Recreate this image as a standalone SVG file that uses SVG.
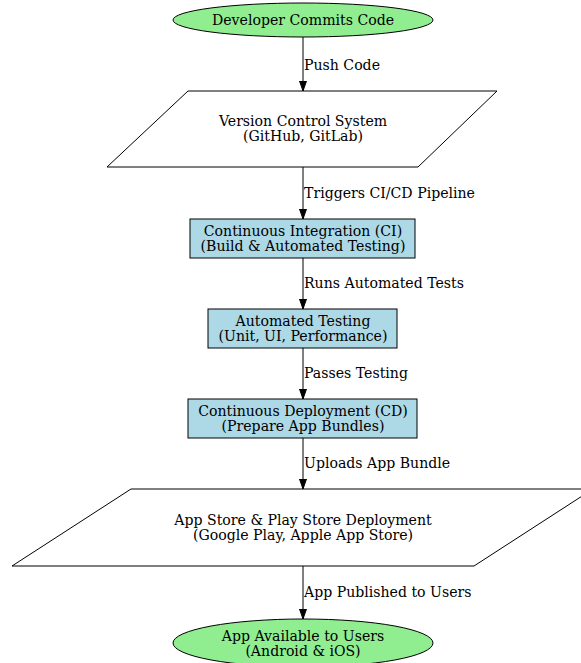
<svg xmlns="http://www.w3.org/2000/svg" width="581" height="663" viewBox="0 0 581 663">
<style>
text{font-family:"DejaVu Serif",serif;font-size:14.1px;fill:#000;}
.n{text-anchor:middle;}
.shape{stroke:#000;stroke-width:1;}
.ell{fill:#90ee90;}
.box{fill:#add8e6;}
.para{fill:#fff;}
.e{stroke:#000;stroke-width:1;fill:none;marker-end:url(#ah);}
</style>
<defs>
<marker id="ah" markerWidth="10" markerHeight="10" refX="10" refY="3.5" orient="auto" markerUnits="userSpaceOnUse" viewBox="0 0 10 7">
<path d="M0,0 L10,3.5 L0,7 Z" fill="#000" stroke="#000"/>
</marker>
</defs>
<rect width="581" height="663" fill="#fff"/>
<g id="connectors">
<line class="e" x1="303" y1="37" x2="303" y2="91"/>
<text x="304" y="70">Push Code</text>
<line class="e" x1="303" y1="167" x2="303" y2="219"/>
<text x="304" y="198">Triggers CI/CD Pipeline</text>
<line class="e" x1="303" y1="258" x2="303" y2="309"/>
<text x="304" y="288">Runs Automated Tests</text>
<line class="e" x1="303" y1="348" x2="303" y2="399"/>
<text x="304" y="378">Passes Testing</text>
<line class="e" x1="303" y1="438" x2="303" y2="489"/>
<text x="304" y="468">Uploads App Bundle</text>
<line class="e" x1="303" y1="566" x2="303" y2="619"/>
<text x="304" y="597">App Published to Users</text>
</g>
<g id="dev">
<ellipse class="shape ell" cx="303" cy="20" rx="130" ry="17"/>
<text class="n" x="303" y="25">Developer Commits Code</text>
</g>
<g id="vcs">
<polygon class="shape para" points="188,91 497,91 418,167 107,167"/>
<text class="n" x="303" y="126">Version Control System</text>
<text class="n" x="303" y="141">(GitHub, GitLab)</text>
</g>
<g id="ci">
<rect class="shape box" x="190" y="219" width="225" height="39"/>
<text class="n" x="303" y="236">Continuous Integration (CI)</text>
<text class="n" x="303" y="251">(Build &amp; Automated Testing)</text>
</g>
<g id="at">
<rect class="shape box" x="208" y="309" width="189" height="39"/>
<text class="n" x="303" y="326">Automated Testing</text>
<text class="n" x="303" y="341">(Unit, UI, Performance)</text>
</g>
<g id="cd">
<rect class="shape box" x="188" y="399" width="229" height="39"/>
<text class="n" x="303" y="416">Continuous Deployment (CD)</text>
<text class="n" x="303" y="431">(Prepare App Bundles)</text>
</g>
<g id="store">
<polygon class="shape para" points="131,489 593,489 474,566 12,566"/>
<text class="n" x="303" y="525">App Store &amp; Play Store Deployment</text>
<text class="n" x="303" y="540">(Google Play, Apple App Store)</text>
</g>
<g id="users">
<ellipse class="shape ell" cx="303" cy="643" rx="130" ry="24"/>
<text class="n" x="303" y="641">App Available to Users</text>
<text class="n" x="303" y="656">(Android &amp; iOS)</text>
</g>
</svg>
